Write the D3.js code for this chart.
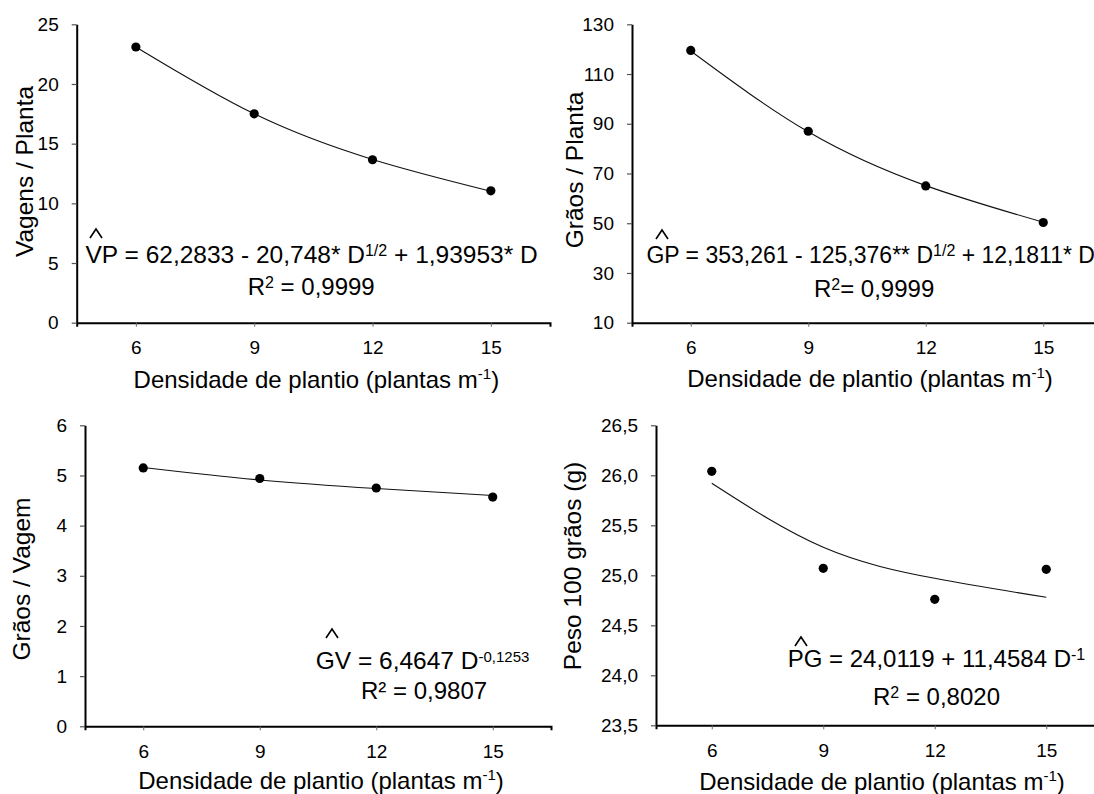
<!DOCTYPE html>
<html>
<head>
<meta charset="utf-8">
<script src="https://cdn.jsdelivr.net/npm/d3@7"></script>
<style>
  html, body { margin: 0; padding: 0; background: #fff; }
  svg { display: block; font-family: "Liberation Sans", Arial, sans-serif; }
  text { white-space: pre; fill: #000; }
</style>
</head>
<body>
<svg id="chart" width="1094" height="794"></svg>
<script>
// ---------------- data ----------------
const density = [6, 9, 12, 15];

const vpObserved = [23.1, 17.5, 13.65, 11.05];
const vpFitted   = [23.10, 17.50, 13.68, 11.02];

const gpObserved = [119.5, 87.0, 65.0, 50.3];
const gpFitted   = [119.25, 86.76, 65.12, 50.41];

const gvObserved = [5.15, 4.94, 4.75, 4.57];
const gvFitted   = [5.16, 4.91, 4.74, 4.60];

const pgObserved = [26.04, 25.07, 24.76, 25.06];
const pgFitted   = [25.92, 25.28, 24.97, 24.78];

const xTicks = [6, 9, 12, 15];
const vpTicks = [0, 5, 10, 15, 20, 25];
const gpTicks = [10, 30, 50, 70, 90, 110, 130];
const gvTicks = [0, 1, 2, 3, 4, 5, 6];
const pgTicks = [23.5, 24.0, 24.5, 25.0, 25.5, 26.0, 26.5];

const xTitle = "Densidade de plantio (plantas m";
const yTitles = ["Vagens / Planta", "Grãos / Planta", "Grãos / Vagem", "Peso 100 grãos (g)"];

// ---------------- layout ----------------
const panels = [
  { obs: vpObserved, fit: vpFitted, yDomain: [0, 25], yTicks: vpTicks, fmt: d => String(d),
    x0: 76.7, x1: 550, yTop: 24.3, yBot: 322.7, yTitle: yTitles[0], yTitleX: 33, yTitleY: 171.5,
    xTitleY: 388,
    eq: [{t: "VP = 62,2833 - 20,748* D"}, {t: "1/2", sup: true}, {t: " + 1,93953* D"}],
    eqX: 85.5, eqY: 263.3, eqFs: 24.5, hatX: 96, hatY: 238,
    r2: [{t: "R"}, {t: "2", sup: true}, {t: " = 0,9999"}], r2X: 247.7, r2Y: 295 },
  { obs: gpObserved, fit: gpFitted, yDomain: [10, 130], yTicks: gpTicks, fmt: d => String(d),
    x0: 632, x1: 1102, yTop: 24.3, yBot: 322.7, yTitle: yTitles[1], yTitleX: 583, yTitleY: 170,
    xTitleY: 387,
    eq: [{t: "GP = 353,261 - 125,376** D"}, {t: "1/2", sup: true}, {t: " + 12,1811* D"}],
    eqX: 646.4, eqY: 263.3, eqFs: 23, hatX: 662, hatY: 239,
    r2: [{t: "R"}, {t: "2", sup: true}, {t: "= 0,9999"}], r2X: 813.9, r2Y: 296.7 },
  { obs: gvObserved, fit: gvFitted, yDomain: [0, 6], yTicks: gvTicks, fmt: d => String(d),
    x0: 85, x1: 551, yTop: 425.3, yBot: 726.3, yTitle: yTitles[2], yTitleX: 30, yTitleY: 579,
    xTitleY: 789,
    eq: [{t: "GV = 6,4647 D"}, {t: "-0,1253", sup: true, fs: 15}],
    eqX: 315.7, eqY: 668.7, eqFs: 24.5, hatX: 332, hatY: 638,
    r2: [{t: "R² = 0,9807"}], r2X: 361, r2Y: 698.7 },
  { obs: pgObserved, fit: pgFitted, yDomain: [23.5, 26.5], yTicks: pgTicks,
    fmt: d => d3.format(".1f")(d).replace(".", ","),
    x0: 656, x1: 1102, yTop: 425.3, yBot: 725.3, yTitle: yTitles[3], yTitleX: 581, yTitleY: 566,
    xTitleY: 790,
    eq: [{t: "PG = 24,0119 + 11,4584 D"}, {t: "-1", sup: true}],
    eqX: 787.7, eqY: 667, eqFs: 24, hatX: 801, hatY: 646,
    r2: [{t: "R"}, {t: "2", sup: true}, {t: " = 0,8020"}], r2X: 873, r2Y: 705.3 }
];

const svg = d3.select("#chart");

function richText(g, segs, x, y, fs) {
  const t = g.append("text").attr("x", x).attr("y", y).attr("font-size", fs);
  let raised = false;
  segs.forEach(s => {
    const ts = t.append("tspan").text(s.t);
    if (s.sup) {
      ts.attr("font-size", s.fs || 16).attr("dy", -7);
      raised = true;
    } else if (raised) {
      ts.attr("dy", 7);
      raised = false;
    }
  });
  return t;
}

panels.forEach(p => {
  const g = svg.append("g");
  const x = d3.scaleLinear().domain([4.5, 16.5]).range([p.x0, p.x1]);
  const y = d3.scaleLinear().domain(p.yDomain).range([p.yBot, p.yTop]);

  // x axis
  const xa = g.append("g").attr("transform", `translate(0,${p.yBot})`)
    .call(d3.axisBottom(x).tickValues(xTicks).tickSizeInner(4).tickSizeOuter(4).tickPadding(14));
  xa.select(".domain").attr("stroke", "#000").attr("stroke-width", 2);
  xa.selectAll(".tick line").attr("stroke", "#666").attr("stroke-width", 1);
  xa.selectAll(".tick text").attr("font-size", 19).attr("fill", "#000")
    .attr("font-family", "Liberation Sans, Arial, sans-serif");

  // y axis
  const ya = g.append("g").attr("transform", `translate(${p.x0},0)`)
    .call(d3.axisLeft(y).tickValues(p.yTicks).tickFormat(p.fmt).tickSizeInner(5).tickSizeOuter(0).tickPadding(13));
  ya.select(".domain").attr("stroke", "#000").attr("stroke-width", 2);
  ya.selectAll(".tick line").attr("stroke", "#555").attr("stroke-width", 1.2);
  ya.selectAll(".tick text").attr("font-size", 19).attr("fill", "#000")
    .attr("font-family", "Liberation Sans, Arial, sans-serif");

  // fitted curve
  const line = d3.line().x((d, i) => x(density[i])).y(d => y(d)).curve(d3.curveNatural);
  g.append("path").datum(p.fit).attr("d", line)
    .attr("fill", "none").attr("stroke", "#111").attr("stroke-width", 1.1);

  // observed points
  g.selectAll("circle.pt").data(p.obs).enter().append("circle")
    .attr("class", "pt").attr("cx", (d, i) => x(density[i])).attr("cy", d => y(d))
    .attr("r", 4.6).attr("fill", "#000");

  // axis titles
  const xt = g.append("text").attr("x", (p.x0 + p.x1) / 2 + 3).attr("y", p.xTitleY)
    .attr("text-anchor", "middle").attr("font-size", 24);
  xt.append("tspan").text(xTitle);
  xt.append("tspan").text("-1").attr("font-size", 15).attr("dy", -9);
  xt.append("tspan").text(")").attr("dy", 9);

  g.append("text").attr("transform", `translate(${p.yTitleX},${p.yTitleY}) rotate(-90)`)
    .attr("text-anchor", "middle").attr("font-size", 24.5).text(p.yTitle);

  // equation with hat (circumflex mark drawn over the first letter), R²
  richText(g, p.eq, p.eqX, p.eqY, p.eqFs);
  g.append("path")
    .attr("d", `M${p.hatX - 6},${p.hatY} L${p.hatX},${p.hatY - 9} L${p.hatX + 6},${p.hatY}`)
    .attr("fill", "none").attr("stroke", "#000").attr("stroke-width", 1.6);
  richText(g, p.r2, p.r2X, p.r2Y, 24);
});
</script>
</body>
</html>
